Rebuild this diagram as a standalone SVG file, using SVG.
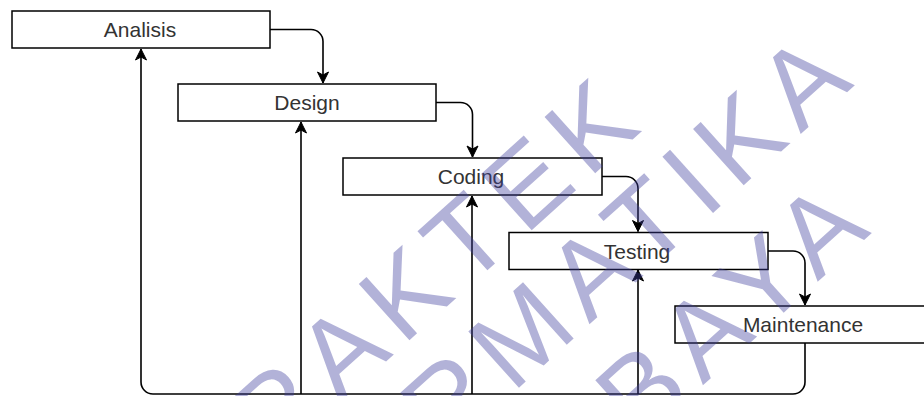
<svg xmlns="http://www.w3.org/2000/svg" width="924" height="396" viewBox="0 0 924 396">
<style>
.box{fill:#fff;stroke:#000;stroke-width:1.5}
.lbl{font-family:"Liberation Sans",Arial,sans-serif;font-size:21px;fill:#333;text-anchor:middle}
.edge{fill:none;stroke:#000;stroke-width:1.6;marker-end:url(#arr)}
.wm{font-family:"Liberation Sans",Arial,sans-serif;font-size:110px;letter-spacing:12px;fill:#3e3e9d;fill-opacity:0.4;text-anchor:end}
</style>
<defs>
<marker id="arr" markerUnits="userSpaceOnUse" markerWidth="14" markerHeight="14" viewBox="-12 -7 14 14" refX="0" refY="0" orient="auto">
<path d="M-11,-5.5 L0,0 L-11,5.5 L-8,0 Z" fill="#000" stroke="#000" stroke-width="1"/>
</marker>
</defs>
<rect width="924" height="396" fill="#fff"/>
<g id="connectors">
<path class="edge" d="M270,29.5 H311 A12,12 0 0 1 323,41.5 V83"/>
<path class="edge" d="M436,102.5 H460.5 A12,12 0 0 1 472.5,114.5 V157"/>
<path class="edge" d="M602,176.5 H626 A12,12 0 0 1 638,188.5 V231.5"/>
<path class="edge" d="M768,251 H793 A12,12 0 0 1 805,263 V305"/>
<path class="edge" d="M805,343 V382 A12,12 0 0 1 793,394 H153 A12,12 0 0 1 141,382 V49"/>
<path class="edge" d="M301,394 V122"/>
<path class="edge" d="M472,394 V196"/>
<path class="edge" d="M638,394 V270"/>
</g>
<g id="analisis"><rect class="box" x="12" y="11" width="258" height="37"/><text class="lbl" x="140" y="37">Analisis</text></g>
<g id="design"><rect class="box" x="178" y="84" width="258" height="37"/><text class="lbl" x="307" y="110">Design</text></g>
<g id="coding"><rect class="box" x="343" y="158" width="259" height="37"/><text class="lbl" x="471" y="184">Coding</text></g>
<g id="testing"><rect class="box" x="509" y="232.5" width="259" height="37"/><text class="lbl" x="637" y="258.5">Testing</text></g>
<g id="maintenance"><rect class="box" x="675" y="306" width="258" height="37"/><text class="lbl" x="803" y="332">Maintenance</text></g>
<g id="watermark">
<text class="wm" x="652" y="122" transform="rotate(-42 652 122)">PRAKTEK</text>
<text class="wm" x="864" y="77" transform="rotate(-42 864 77)">INFORMATIKA</text>
<text class="wm" x="881" y="225" transform="rotate(-42 881 225)">SURABAYA</text>
</g>
</svg>
